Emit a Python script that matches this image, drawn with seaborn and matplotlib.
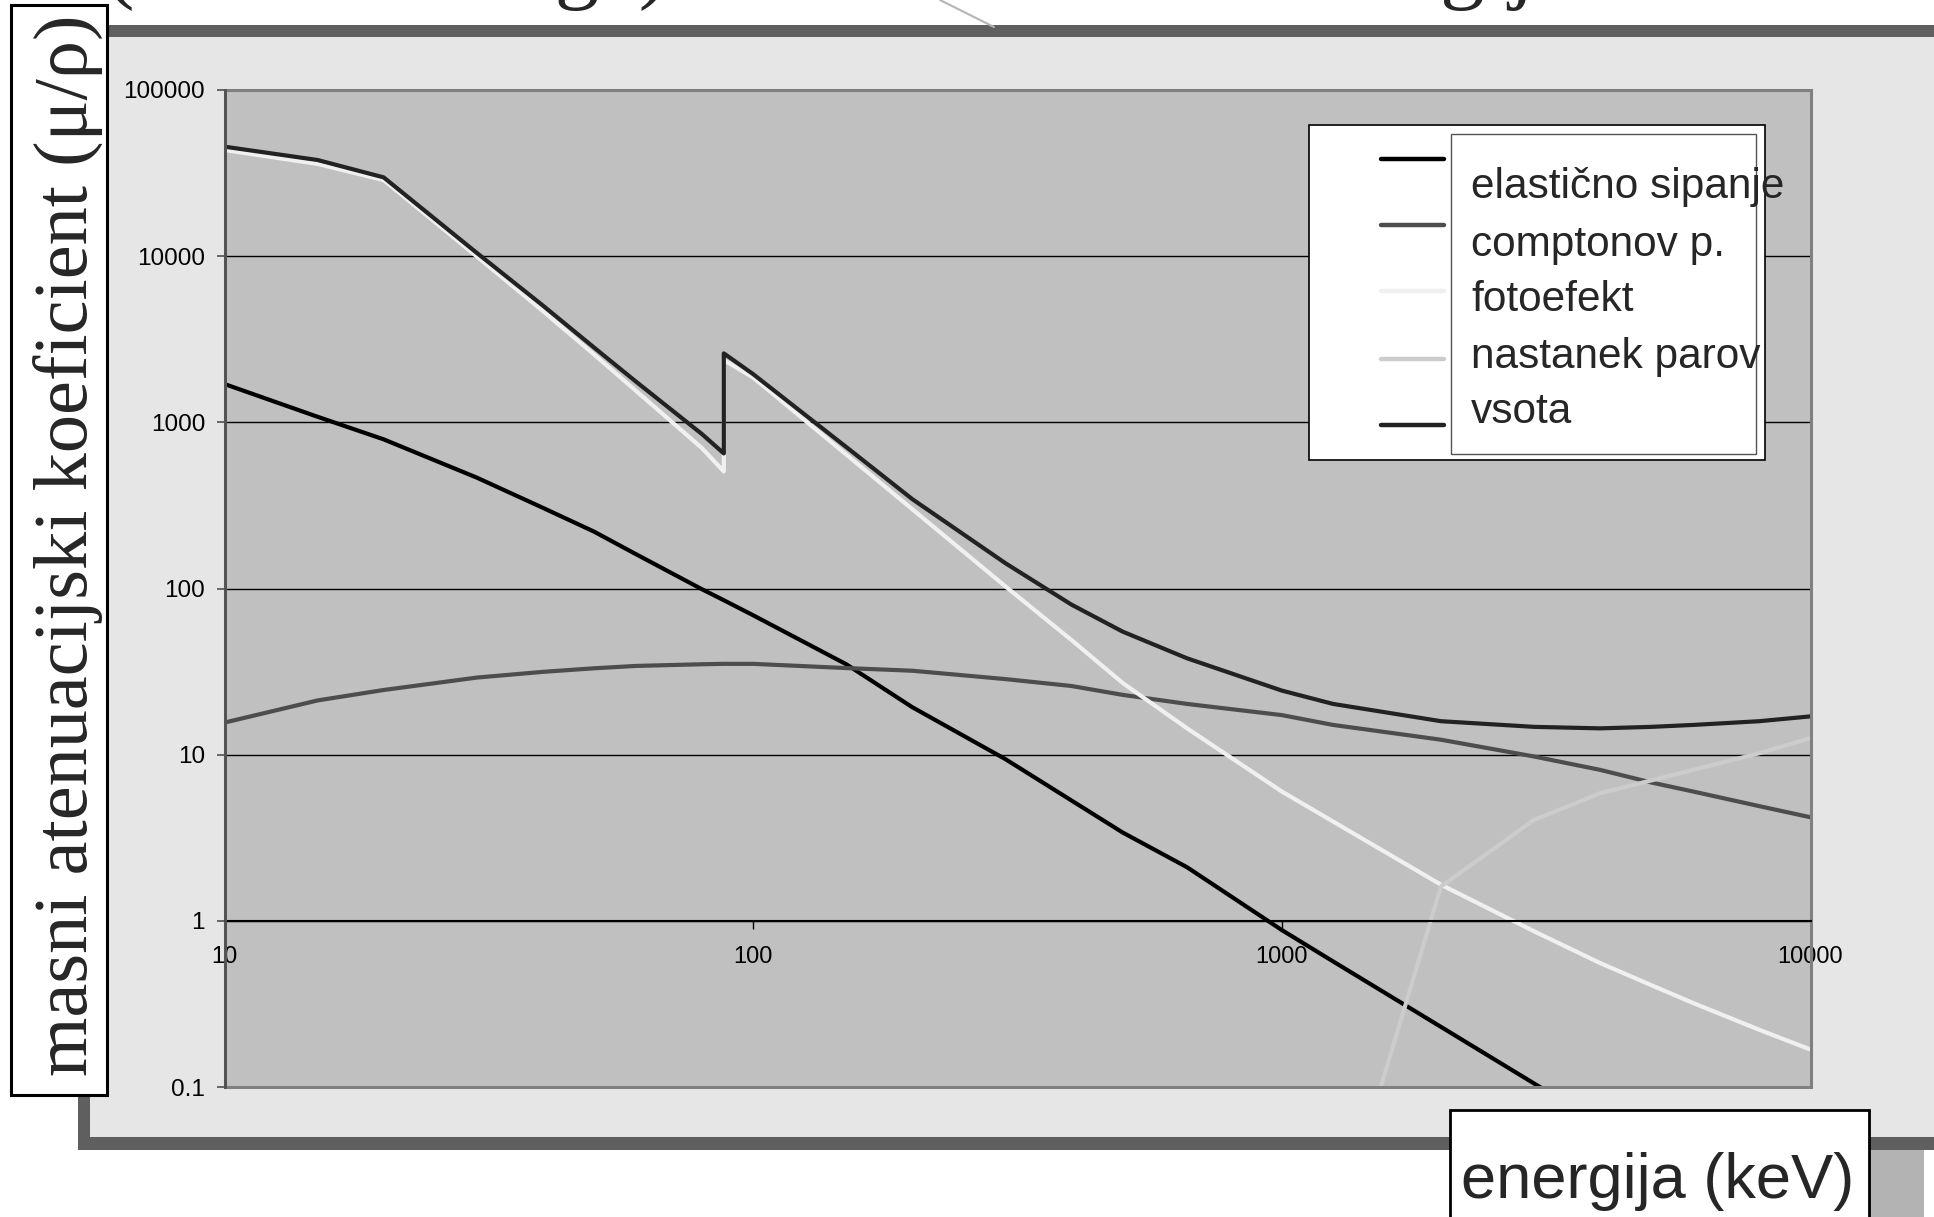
import numpy as np
import pandas as pd
import matplotlib.pyplot as plt
import seaborn as sns
from matplotlib.patches import Rectangle
from matplotlib.lines import Line2D
from matplotlib.ticker import FixedLocator, FixedFormatter, NullLocator

# energije (keV), 88 keV dvakrat zaradi K roba svinca
energy = [10, 15, 20, 30, 40, 50, 60, 80, 88, 88, 100, 150, 200, 300, 400, 500, 662,
          1000, 1250, 2000, 3000, 4000, 5000, 6000, 8000, 10000]

elastic = [1700, 1080, 790, 465, 306, 220, 161, 99, 85, 85, 69, 35, 19.3, 9.4, 5.3, 3.4, 2.1,
           0.88, 0.57, 0.23, 0.105, 0.06, 0.04, 0.028, 0.016, 0.01]
compton = [15.6, 21.2, 24.5, 29.1, 31.5, 33.1, 34.2, 35.0, 35.2, 35.2, 35.2, 33.2, 32.0, 28.5,
           25.9, 22.9, 20.2, 17.3, 15.1, 12.3, 9.75, 8.1, 6.8, 6.0, 4.9, 4.2]
photo = [43500, 35900, 28700, 9970, 4680, 2560, 1550, 700, 506, 2370, 1860, 640, 300, 103, 49,
         27, 14.4, 6.0, 3.96, 1.65, 0.865, 0.557, 0.41, 0.32, 0.221, 0.168]
pair = [np.nan] * 18 + [0.011, 1.61, 4.05, 5.86, 7.0, 8.1, 10.2, 12.6]
total = [45600, 37900, 29800, 10470, 5050, 2820, 1760, 850, 650, 2600, 1950, 710, 345, 142, 80,
         55, 38, 24.3, 20.2, 15.9, 14.7, 14.4, 14.7, 15.1, 15.9, 17.0]

names = ['elastično sipanje', 'comptonov p.', 'fotoefekt', 'nastanek parov', 'vsota']
colors = ['#000000', '#4d4d4d', '#f0f0f0', '#cccccc', '#222222']

xticks = [10, 100, 1000, 10000]
xtick_labels = ['10', '100', '1000', '10000']
yticks = [0.1, 1, 10, 100, 1000, 10000, 100000]
ytick_labels = ['0.1', '1', '10', '100', '1000', '10000', '100000']

# long-form tabela za seaborn
rows = []
for name, vals in zip(names, [elastic, compton, photo, pair, total]):
    for e, v in zip(energy, vals):
        rows.append({'energija': e, 'mu': v, 'serija': name})
df = pd.DataFrame(rows)

sns.set_theme(style='white')
plt.rcParams['font.family'] = ['Liberation Sans', 'DejaVu Sans']

W, H = 1934, 1217
fig = plt.figure(figsize=(W / 100, H / 100), dpi=100)
fig.patch.set_facecolor('white')


def fx(px):
    return px / W


def fy(py):
    return 1 - py / H


def box(x0, y0, x1, y1, **kw):
    r = Rectangle((fx(x0), fy(y1)), (x1 - x0) / W, (y1 - y0) / H,
                  transform=fig.transFigure, **kw)
    fig.add_artist(r)
    return r


# ozadje grafa (okvir, panel, senca)
box(78, 25, 1950, 1150, fc='#5f5f5f', ec='none', zorder=-3)
box(90, 37, 1950, 1137, fc='#e6e6e6', ec='none', zorder=-2)
box(1869, 1150, 1924, 1230, fc='#b3b3b3', ec='none', zorder=-3)

# odrezan naslov na vrhu (vidni so le spodnji deli črk)
fig.text(fx(105), fy(-8), '(tudi vse druge) so le odvisne od energije', fontsize=64,
         family=['Liberation Serif', 'DejaVu Serif'], va='baseline', ha='left', zorder=4)
fig.add_artist(Line2D([fx(940), fx(994)], [fy(0), fy(27)], color='#b4b4b4', lw=1.5,
                      transform=fig.transFigure, zorder=-1))

ax = fig.add_axes([fx(224.5), fy(1087), (1810.5 - 224.5) / W, (1087 - 90) / H])
ax.set_facecolor('#c0c0c0')

sns.lineplot(data=df, x='energija', y='mu', hue='serija', palette=dict(zip(names, colors)),
             estimator=None, sort=False, lw=3.0, legend=False, ax=ax)

ax.set_xscale('log')
ax.set_yscale('log')
ax.set_xlim(10, 10000)
ax.set_ylim(0.1, 100000)
ax.set_xlabel('')
ax.set_ylabel('')

ax.yaxis.set_major_locator(FixedLocator(yticks))
ax.yaxis.set_major_formatter(FixedFormatter(ytick_labels))
ax.yaxis.set_minor_locator(NullLocator())
ax.xaxis.set_major_locator(FixedLocator(xticks))
ax.xaxis.set_major_formatter(FixedFormatter(xtick_labels))
ax.xaxis.set_minor_locator(NullLocator())

ax.set_axisbelow(True)
ax.yaxis.grid(True, color='black', lw=1.0)
ax.xaxis.grid(False)

# x os seka pri 1
ax.spines['bottom'].set_position(('data', 1))
ax.spines['bottom'].set_color('black')
ax.spines['bottom'].set_linewidth(1.5)
ax.spines['top'].set_visible(False)
ax.spines['right'].set_visible(False)
ax.spines['left'].set_color('#505050')
ax.spines['left'].set_linewidth(2.0)
ax.spines['left'].set_zorder(3)
ax.add_patch(Rectangle((0, 0), 1, 1, transform=ax.transAxes, fill=False, ec='#808080',
                       lw=2.2, clip_on=False, zorder=2.5))

ax.tick_params(axis='y', left=True, direction='out', length=5.5, width=1.2, color='#505050',
               pad=8.5, labelsize=17.5, labelcolor='black')
ax.tick_params(axis='x', bottom=True, direction='out', length=6, width=1.0, color='black',
               pad=12, labelsize=17, labelcolor='black')

# oznaka y osi
box(11, 5, 107, 1095, fc='white', ec='black', lw=2.2, zorder=5)
fig.text(fx(88), fy(545), 'masni atenuacijski koeficient (μ/ρ)', rotation=90,
         rotation_mode='anchor', ha='center', va='baseline', fontsize=55,
         family=['Liberation Serif', 'DejaVu Serif'], zorder=6)

# oznaka x osi
box(1450, 1110, 1869, 1225, fc='white', ec='black', lw=2.0, zorder=5)
fig.text(fx(1461), fy(1198), 'energija (keV)', fontsize=45.5, ha='left', va='baseline', zorder=6)

# legenda
box(1309, 124.5, 1765, 459.5, fc='white', ec='black', lw=1.2, zorder=5)
box(1450.7, 134, 1755.7, 454, fc='none', ec='#555555', lw=1.0, zorder=6)
line_y = [159, 225, 291, 359, 425]
text_y = [198, 256, 311, 368, 423]
for name, col, ly, ty in zip(names, colors, line_y, text_y):
    fig.add_artist(Line2D([fx(1381), fx(1444)], [fy(ly), fy(ly)], color=col, lw=3.2,
                          solid_capstyle='round', transform=fig.transFigure, zorder=6))
    fig.text(fx(1471), fy(ty), name, fontsize=30.5, ha='left', va='baseline', zorder=7)

fig.savefig('out.png', dpi=100)
